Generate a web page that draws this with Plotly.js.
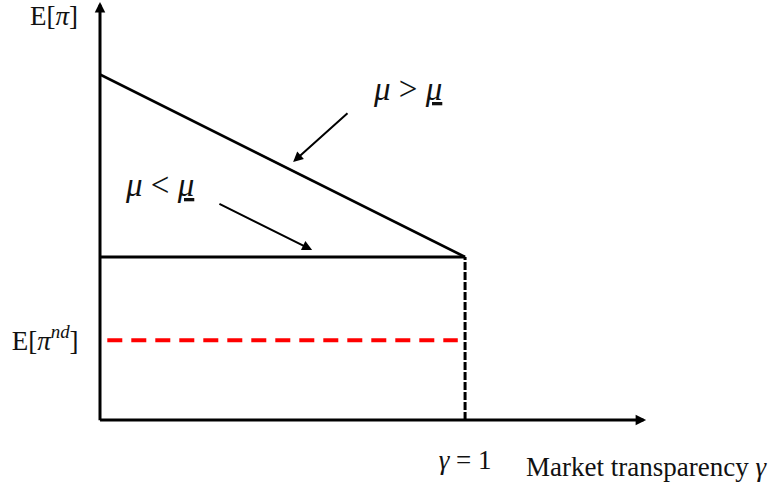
<!DOCTYPE html>
<html>
<head>
<meta charset="utf-8">
<script src="https://cdn.plot.ly/plotly-3.0.1.min.js"></script>
<style>
  html, body { margin: 0; padding: 0; background: #fff; }
  #chart { width: 771px; height: 486px; }
</style>
</head>
<body>
<div id="chart"></div>
<script>
// market transparency (gamma) and expected profit, arbitrary units
const gamma = [0, 1];
const profitHighMu = [2.12, 1.0];
const profitLowMu = [1.0, 1.0];
const ndGamma = [0.02, 0.98];
const profitNoDisclosure = [0.49, 0.49];
const dropGamma = [1, 1];
const dropProfit = [0, 1.0];

const xTickVals = [1];
const xTickLabels = ['<i>γ</i> = 1'];
const yTickVals = [0.49];
const yTickLabels = ['E[<i>π</i><sup><i>nd</i></sup>]'];

const serif = 'Liberation Serif, Times New Roman, serif';
const ink = '#111';

const traces = [
  {
    x: gamma, y: profitHighMu, mode: 'lines',
    line: { color: '#000', width: 2.6 }, hoverinfo: 'skip'
  },
  {
    x: gamma, y: profitLowMu, mode: 'lines',
    line: { color: '#000', width: 3.2 }, hoverinfo: 'skip'
  },
  {
    x: dropGamma, y: dropProfit, mode: 'lines',
    line: { color: '#000', width: 3, dash: '8px,2px' }, hoverinfo: 'skip'
  },
  {
    x: ndGamma, y: profitNoDisclosure, mode: 'lines',
    line: { color: '#ff0000', width: 4, dash: '15px,9px' }, hoverinfo: 'skip'
  }
];

function arrow(x, y, ax, ay, width, size) {
  return {
    x: x, y: y, ax: ax, ay: ay, xref: 'x', yref: 'y', axref: 'x', ayref: 'y',
    text: '', showarrow: true, arrowhead: 2, arrowwidth: width, arrowsize: size,
    arrowcolor: '#000', standoff: 0, startstandoff: 0
  };
}

function label(x, y, text, size, ref) {
  return {
    x: x, y: y, xref: ref || 'x', yref: ref ? 'paper' : 'y', text: text, showarrow: false,
    xanchor: 'center', yanchor: 'middle',
    font: { family: serif, size: size, color: ink }
  };
}

const annotations = [
  // axes with arrow heads
  arrow(0, 2.565, 0, -0.01, 3, 0.7),
  arrow(1.496, 0, -0.004, 0, 3, 0.7),
  // pointers to the two profit lines
  arrow(0.529, 1.583, 0.682, 1.890, 2, 1),
  arrow(0.581, 1.043, 0.323, 1.331, 2, 1),
  label(-0.0686, 0.962, 'E[<i>π</i>]', 27, 'paper'),
  label(0.815, -0.112, 'Market transparency <i>γ</i>', 27, 'paper'),
  label(0.841, 2.03, '<i>μ</i> &gt; <u><i>μ</i></u>', 33),
  label(0.164, 1.44, '<i>μ</i> &lt; <u><i>μ</i></u>', 33)
];

const layout = {
  width: 771,
  height: 486,
  margin: { l: 100, r: 0, t: 0, b: 66 },
  paper_bgcolor: '#fff',
  plot_bgcolor: '#fff',
  showlegend: false,
  xaxis: {
    range: [0, 1.838], showgrid: false, zeroline: false, showline: false,
    tickvals: xTickVals, ticktext: xTickLabels,
    ticks: 'outside', ticklen: 16, tickcolor: 'rgba(0,0,0,0)',
    tickfont: { family: serif, size: 27, color: ink }
  },
  yaxis: {
    range: [0, 2.577], showgrid: false, zeroline: false, showline: false,
    tickvals: yTickVals, ticktext: yTickLabels,
    ticks: 'outside', ticklen: 15, tickcolor: 'rgba(0,0,0,0)',
    tickfont: { family: serif, size: 27, color: ink }
  },
  annotations: annotations
};

Plotly.newPlot('chart', traces, layout, { staticPlot: true });
</script>
</body>
</html>
